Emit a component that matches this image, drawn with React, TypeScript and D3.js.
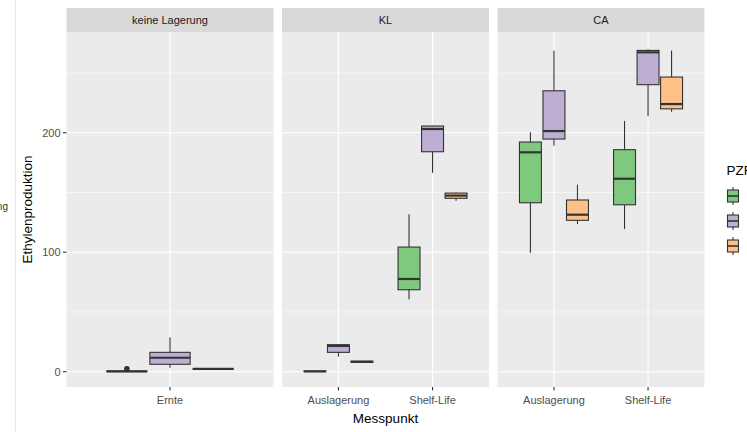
import React, { useEffect, useRef } from 'react';
import * as d3 from 'd3';

// Facets and measuring points
const facets = ['keine Lagerung', 'KL', 'CA'];
const facetPoints = [['Ernte'], ['Auslagerung', 'Shelf-Life'], ['Auslagerung', 'Shelf-Life']];
const groups = ['1', '2', '3'];
const groupColors = ['#7FC97F', '#BEAED4', '#FDC086'];

// One entry per box: facet index, point index, group index
const boxFacet = [0, 0, 0, 1, 1, 1, 1, 1, 1, 2, 2, 2, 2, 2, 2];
const boxPoint = [0, 0, 0, 0, 0, 0, 1, 1, 1, 0, 0, 0, 1, 1, 1];
const boxGroup = [0, 1, 2, 0, 1, 2, 0, 1, 2, 0, 1, 2, 0, 1, 2];
const whiskerLow = [0, 3.3, 2, 0, 12.6, 7.6, 60.6, 166.5, 143.1, 99.6, 189.1, 123.6, 119.4, 213.7, 217.6];
const q1 = [0.1, 6.2, 2.1, 0.1, 16.2, 7.8, 68.6, 184.1, 145.1, 141.4, 194.7, 126.7, 139.7, 240.2, 220];
const median = [0.3, 11.7, 2.3, 0.3, 21.6, 8.3, 77.6, 203.1, 147.4, 183.6, 201.4, 131.4, 161.5, 267.3, 224];
const q3 = [0.5, 16.2, 2.6, 0.5, 22.6, 8.8, 104.3, 205.6, 149.5, 192.2, 235.1, 143.7, 185.8, 268.9, 246.6];
const whiskerHigh = [0.6, 28.8, 2.7, 0.6, 22.8, 9, 131.7, 205.9, 150, 200.3, 268.6, 156.5, 209.8, 269.8, 268.9];
const outliers = [[2.5], [], [], [], [], [], [], [], [], [], [], [], [], [], []];

const yTicks = [0, 100, 200];
const yMinor = [50, 150, 250];

const App = () => {
  const svgRef = useRef<SVGSVGElement>(null);

  useEffect(() => {
    if (!svgRef.current) return;
    const svg = d3.select(svgRef.current);
    svg.selectAll('*').remove();

    const width = 747;
    const height = 432;
    const panelTop = 32;
    const panelBottom = 387;
    const panelW = 207;
    const panelStep = 215.5;
    const panelLeft0 = 66.5;
    const stripH = 24;
    const font = '"Liberation Sans", Arial, sans-serif';

    svg.attr('width', width).attr('height', height);
    svg.append('rect').attr('width', width).attr('height', height).attr('fill', '#fff');

    // Cut-off window artefacts at the left edge
    svg.append('line')
      .attr('x1', 15.5).attr('x2', 15.5).attr('y1', 0).attr('y2', height)
      .attr('stroke', '#e6e6e6').attr('stroke-width', 1);
    svg.append('text')
      .attr('x', 8).attr('y', 210)
      .attr('text-anchor', 'end')
      .attr('font-family', font).attr('font-size', 10).attr('fill', '#333')
      .text('Lagerung');

    const y = d3.scaleLinear().domain([-12.8, 284.3]).range([panelBottom, panelTop]);

    facets.forEach((facet, fi) => {
      const x0 = panelLeft0 + fi * panelStep;
      const pts = facetPoints[fi];
      const x = d3.scaleLinear().domain([0.4, pts.length + 0.6]).range([x0, x0 + panelW]);
      const g = svg.append('g');

      // Panel background
      g.append('rect')
        .attr('x', x0).attr('y', panelTop).attr('width', panelW).attr('height', panelBottom - panelTop)
        .attr('fill', '#ebebeb');

      // Grid lines
      yMinor.forEach(v => {
        g.append('line')
          .attr('x1', x0).attr('x2', x0 + panelW).attr('y1', y(v)).attr('y2', y(v))
          .attr('stroke', '#fff').attr('stroke-width', 0.55);
      });
      yTicks.forEach(v => {
        g.append('line')
          .attr('x1', x0).attr('x2', x0 + panelW).attr('y1', y(v)).attr('y2', y(v))
          .attr('stroke', '#fff').attr('stroke-width', 1.1);
      });
      pts.forEach((p, i) => {
        g.append('line')
          .attr('x1', x(i + 1)).attr('x2', x(i + 1)).attr('y1', panelTop).attr('y2', panelBottom)
          .attr('stroke', '#fff').attr('stroke-width', 1.1);
        // x ticks
        g.append('line')
          .attr('x1', x(i + 1)).attr('x2', x(i + 1)).attr('y1', panelBottom).attr('y2', panelBottom + 3.5)
          .attr('stroke', '#333').attr('stroke-width', 1.1);
        g.append('text')
          .attr('x', x(i + 1)).attr('y', panelBottom + 17)
          .attr('text-anchor', 'middle')
          .attr('font-family', font).attr('font-size', 11).attr('fill', '#4d4d4d')
          .text(p);
      });

      // Strip
      g.append('rect')
        .attr('x', x0).attr('y', panelTop - stripH).attr('width', panelW).attr('height', stripH)
        .attr('fill', '#d9d9d9');
      g.append('text')
        .attr('x', x0 + panelW / 2).attr('y', panelTop - stripH / 2 + 4)
        .attr('text-anchor', 'middle')
        .attr('font-family', font).attr('font-size', 11).attr('fill', '#1a1a1a')
        .text(facet);

      // Boxes
      boxFacet.forEach((bf, bi) => {
        if (bf !== fi) return;
        const c = boxPoint[bi] + 1 + (boxGroup[bi] - 1) * 0.25;
        const half = 0.7 / 6;
        const cx = x(c);
        const bx0 = x(c - half);
        const bx1 = x(c + half);
        const stroke = '#333333';
        g.append('line')
          .attr('x1', cx).attr('x2', cx).attr('y1', y(q3[bi])).attr('y2', y(whiskerHigh[bi]))
          .attr('stroke', stroke).attr('stroke-width', 1.1);
        g.append('line')
          .attr('x1', cx).attr('x2', cx).attr('y1', y(q1[bi])).attr('y2', y(whiskerLow[bi]))
          .attr('stroke', stroke).attr('stroke-width', 1.1);
        g.append('rect')
          .attr('x', bx0).attr('y', y(q3[bi]))
          .attr('width', bx1 - bx0).attr('height', Math.max(0, y(q1[bi]) - y(q3[bi])))
          .attr('fill', groupColors[boxGroup[bi]])
          .attr('stroke', stroke).attr('stroke-width', 1.1);
        g.append('line')
          .attr('x1', bx0).attr('x2', bx1).attr('y1', y(median[bi])).attr('y2', y(median[bi]))
          .attr('stroke', stroke).attr('stroke-width', 2.2);
        outliers[bi].forEach(o => {
          g.append('circle')
            .attr('cx', cx).attr('cy', y(o)).attr('r', 2.8)
            .attr('fill', stroke);
        });
      });
    });

    // Y axis
    yTicks.forEach(v => {
      svg.append('line')
        .attr('x1', panelLeft0 - 3.5).attr('x2', panelLeft0).attr('y1', y(v)).attr('y2', y(v))
        .attr('stroke', '#333').attr('stroke-width', 1.1);
      svg.append('text')
        .attr('x', panelLeft0 - 6).attr('y', y(v) + 4)
        .attr('text-anchor', 'end')
        .attr('font-family', font).attr('font-size', 11).attr('fill', '#4d4d4d')
        .text(v);
    });

    // Axis titles
    svg.append('text')
      .attr('transform', `translate(32,${(panelTop + panelBottom) / 2}) rotate(-90)`)
      .attr('text-anchor', 'middle')
      .attr('font-family', font).attr('font-size', 13.5).attr('fill', '#000')
      .text('Ethylenproduktion');
    svg.append('text')
      .attr('x', 385.5).attr('y', 423)
      .attr('text-anchor', 'middle')
      .attr('font-family', font).attr('font-size', 13.5).attr('fill', '#000')
      .text('Messpunkt');

    // Legend (cut off on the right)
    svg.append('text')
      .attr('x', 726.5).attr('y', 175)
      .attr('font-family', font).attr('font-size', 13.5).attr('fill', '#000')
      .text('PZF');
    groups.forEach((grp, gi) => {
      const cy = 196 + gi * 25;
      const kx = 733;
      svg.append('line')
        .attr('x1', kx).attr('x2', kx).attr('y1', cy - 9).attr('y2', cy + 9)
        .attr('stroke', '#333').attr('stroke-width', 1.1);
      svg.append('rect')
        .attr('x', kx - 5.5).attr('y', cy - 6).attr('width', 11).attr('height', 12)
        .attr('fill', groupColors[gi]).attr('stroke', '#333').attr('stroke-width', 1.1);
      svg.append('line')
        .attr('x1', kx - 5.5).attr('x2', kx + 5.5).attr('y1', cy).attr('y2', cy)
        .attr('stroke', '#333').attr('stroke-width', 1.6);
    });
  }, []);

  return (
    <div style={{ position: 'absolute', left: 0, top: 0, width: 747, height: 432 }}>
      <svg ref={svgRef} width="747" height="432" style={{ display: 'block' }}></svg>
    </div>
  );
};

export default App;
